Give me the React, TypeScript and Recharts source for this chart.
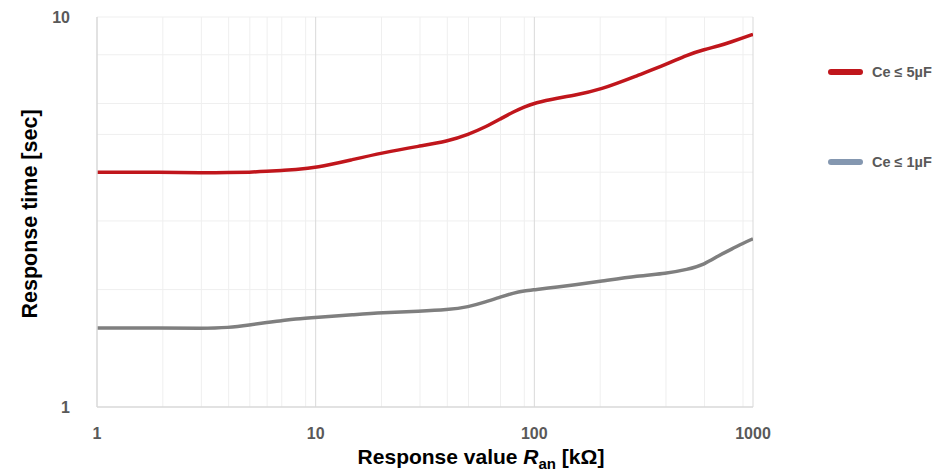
import React from "react";
import {
  LineChart,
  Line,
  XAxis,
  YAxis,
  CartesianGrid,
  Legend,
} from "recharts";

// resistance values (kOhm)
const resistance = [1, 2, 3, 4, 5, 6, 7, 8, 10, 15, 20, 30, 40, 50, 60, 70, 80, 90, 100, 130, 150, 200, 300, 400, 500, 600, 700, 800, 900, 1000];
// response time (sec) for Ce <= 5uF
const ce5 = [4.0, 4.0, 3.98, 3.99, 4.0, 4.02, 4.04, 4.06, 4.1, 4.32, 4.48, 4.67, 4.8, 5.0, 5.23, 5.48, 5.71, 5.88, 6.02, 6.21, 6.29, 6.5, 7.1, 7.55, 8.0, 8.26, 8.43, 8.64, 8.85, 9.03];
// response time (sec) for Ce <= 1uF
const ce1 = [1.595, 1.595, 1.59, 1.597, 1.623, 1.648, 1.664, 1.681, 1.698, 1.725, 1.745, 1.76, 1.775, 1.805, 1.86, 1.914, 1.96, 1.985, 1.998, 2.035, 2.055, 2.1, 2.17, 2.2, 2.25, 2.32, 2.45, 2.54, 2.63, 2.7];

const xTicks = [1, 10, 100, 1000];
const yTicks = [1, 10];
const xMinor = [2, 3, 4, 5, 6, 7, 8, 9, 20, 30, 40, 50, 60, 70, 80, 90, 200, 300, 400, 500, 600, 700, 800, 900];
const xMajor = [10, 100, 1000];
const yMinor = [2, 3, 4, 5, 6, 7, 8, 9, 10];

const legendItems = [
  { name: "Ce ≤ 5µF", color: "#c0161c" },
  { name: "Ce ≤ 1µF", color: "#8497b0" },
];

const data = resistance.map((r, i) => ({ r, ce5: ce5[i], ce1: ce1[i] }));

const tickStyle = { fill: "#595959", fontSize: 16, fontWeight: 700, fontFamily: "Liberation Sans" };

const LEGEND_W = 110;

function LegendBox() {
  return (
    <div style={{ width: LEGEND_W, fontFamily: "Liberation Sans", fontWeight: 700, fontSize: 14.5, color: "#595959" }}>
      {legendItems.map((it, i) => (
        <div key={it.name} style={{ display: "flex", alignItems: "center", height: 20, marginBottom: i === 0 ? 70 : 0, whiteSpace: "nowrap" }}>
          <div style={{ width: 35, height: 6, borderRadius: 3, background: it.color, marginRight: 9, flexShrink: 0 }} />
          <span>{it.name}</span>
        </div>
      ))}
    </div>
  );
}

function XTitle() {
  return (
    <text x={481} y={464} textAnchor="middle" fontFamily="Liberation Sans" fontWeight={700} fontSize={21} fill="#000">
      Response value <tspan fontStyle="italic">R</tspan>
      <tspan fontSize={15} dy={5}>an</tspan>
      <tspan dy={-5}> [kΩ]</tspan>
    </text>
  );
}

function YTitle() {
  return (
    <text
      x={30}
      y={214}
      transform="rotate(-90 30 214)"
      textAnchor="middle"
      dominantBaseline="central"
      fontFamily="Liberation Sans"
      fontWeight={700}
      fontSize={21.5}
      fill="#000"
    >
      Response time [sec]
    </text>
  );
}

export default function App() {
  return (
    <div style={{ position: "absolute", left: 0, top: 0, background: "#fff" }}>
      <LineChart width={937} height={472} data={data} margin={{ top: 17, right: 184 - LEGEND_W, bottom: 0, left: 0 }}>
        <CartesianGrid stroke="#efefef" horizontalValues={yMinor} verticalValues={xMinor} />
        <CartesianGrid stroke="#d9d9d9" horizontal={false} verticalValues={xMajor} />
        <XAxis
          dataKey="r"
          type="number"
          scale="log"
          domain={[1, 1000]}
          ticks={xTicks}
          allowDataOverflow
          height={65}
          tickLine={false}
          tickSize={0}
          tickMargin={21}
          axisLine={{ stroke: "#d9d9d9", strokeWidth: 1.5 }}
          tick={tickStyle}
          label={<XTitle />}
        />
        <YAxis
          type="number"
          scale="log"
          domain={[1, 10]}
          ticks={yTicks}
          allowDataOverflow
          width={97}
          tickLine={false}
          tickSize={0}
          tickMargin={27}
          axisLine={{ stroke: "#d9d9d9", strokeWidth: 1.5 }}
          tick={tickStyle}
          label={<YTitle />}
        />
        <Legend
          layout="vertical"
          align="right"
          verticalAlign="top"
          content={() => <LegendBox />}
          wrapperStyle={{ left: 828, top: 62, width: LEGEND_W }}
        />
        <Line
          type="basis"
          dataKey="ce5"
          stroke="#c0161c"
          strokeWidth={3.5}
          dot={false}
          isAnimationActive={false}
        />
        <Line
          type="basis"
          dataKey="ce1"
          stroke="#7f7f7f"
          strokeWidth={3.5}
          dot={false}
          isAnimationActive={false}
        />
      </LineChart>
    </div>
  );
}
